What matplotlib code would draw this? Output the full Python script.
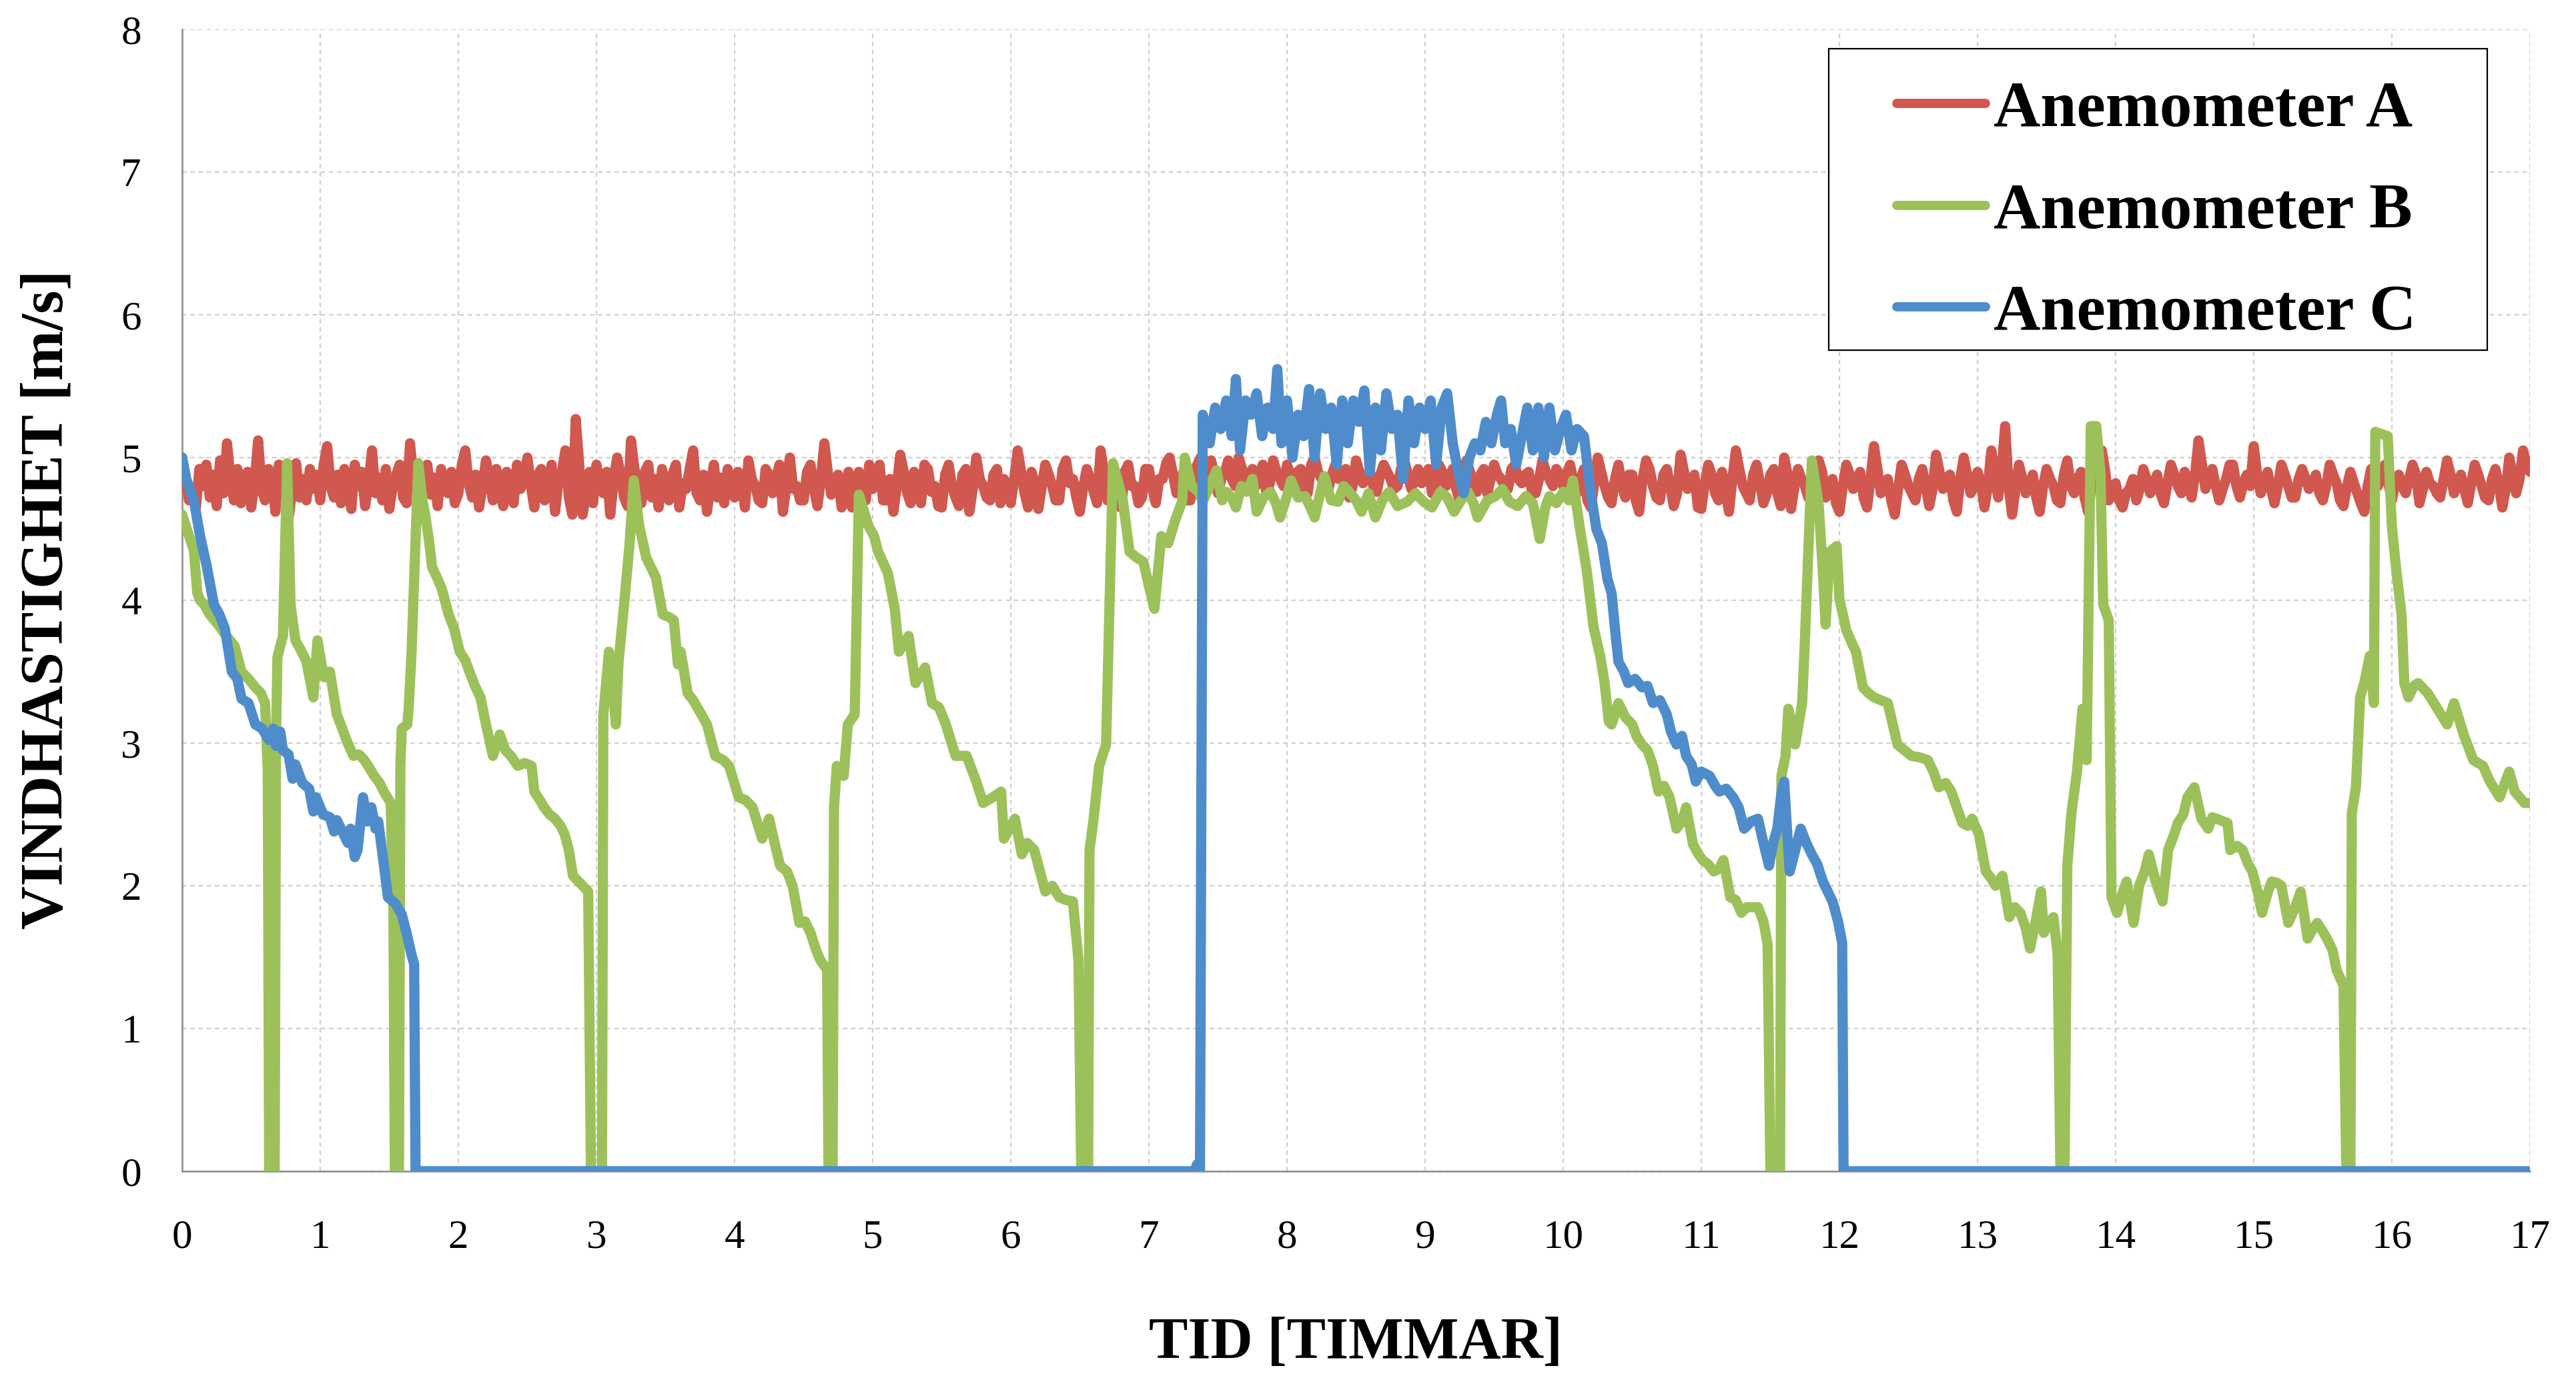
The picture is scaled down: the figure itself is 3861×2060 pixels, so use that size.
import numpy as np
import matplotlib
matplotlib.use("Agg")
import matplotlib.pyplot as plt
from matplotlib.patches import Rectangle

# ---------------- data ----------------
series_names = ["Anemometer A", "Anemometer B", "Anemometer C"]
series_colors = ["#d0584f", "#9cc15a", "#4f8ccb"]

# Anemometer A: sampled every 0.025 h from 0 to 17 h (one row = half an hour)
a_step = 0.025
a_values = [
    5.00,4.85,4.70,4.78,4.65,4.92,4.80,4.95,4.72,4.88,4.66,4.98,4.75,5.10,4.85,4.70,4.92,4.68,4.80,4.90,
    4.65,4.82,5.12,4.78,4.70,4.92,4.86,4.62,4.95,4.75,4.88,4.60,4.82,4.96,4.72,4.85,4.70,4.92,4.78,4.88,
    4.70,4.95,5.08,4.80,4.72,4.88,4.68,4.92,4.78,4.64,4.95,4.80,4.90,4.66,4.82,5.05,4.75,4.86,4.70,4.92,
    4.64,4.80,4.88,4.95,4.72,4.68,5.10,4.85,4.78,4.62,4.88,4.95,4.74,4.86,4.66,4.92,4.80,4.75,4.90,4.68,
    4.75,4.95,5.05,4.82,4.72,4.88,4.65,4.80,4.98,4.85,4.70,4.92,4.76,4.66,4.90,4.82,4.68,4.95,4.78,4.86,
    5.00,4.80,4.65,4.88,4.92,4.70,4.78,4.95,4.62,4.84,4.90,5.05,4.72,4.60,5.27,4.95,4.60,4.75,4.90,4.68,
    4.95,4.82,4.75,4.90,4.60,4.85,5.00,4.88,4.72,4.66,5.12,4.92,4.80,4.68,4.90,4.95,4.72,4.85,4.65,4.92,
    4.80,4.70,4.88,4.95,4.65,4.82,4.78,4.92,5.05,4.75,4.70,4.88,4.62,4.80,4.95,4.72,4.86,4.68,4.92,4.78,
    4.72,4.90,4.82,4.65,4.98,4.85,4.80,4.70,4.68,4.92,4.88,4.75,4.85,4.95,4.62,4.80,5.00,4.78,4.80,4.70,
    4.70,4.90,4.95,4.78,4.66,4.85,5.10,4.90,4.74,4.82,4.88,4.65,4.72,4.90,4.65,4.80,4.90,4.75,4.70,4.95,
    4.78,4.88,4.95,4.70,4.70,4.85,4.62,4.80,5.02,4.90,4.75,4.68,4.90,4.82,4.68,4.95,4.92,4.76,4.80,4.66,
    4.65,4.88,4.95,4.80,4.72,4.66,4.88,4.92,4.62,4.78,5.00,4.85,4.80,4.72,4.70,4.88,4.92,4.68,4.85,4.78,
    4.68,4.85,5.05,4.90,4.75,4.65,4.90,4.82,4.64,4.80,4.95,4.88,4.80,4.70,4.70,4.92,4.98,4.82,4.85,4.72,
    4.62,4.80,4.92,4.85,4.76,4.68,5.05,4.90,4.70,4.78,4.88,4.66,4.65,4.90,4.95,4.80,4.80,4.68,4.72,4.92,
    4.92,4.78,4.68,4.85,4.85,4.96,5.00,4.88,4.75,4.82,4.90,4.70,4.70,4.85,4.95,5.00,4.82,4.90,4.98,4.88,
    4.75,4.85,4.90,4.98,4.85,4.80,5.00,4.92,4.78,4.88,4.92,4.80,4.88,4.95,4.75,4.82,4.98,4.90,4.85,4.80,
    4.95,4.88,4.80,4.90,4.92,4.78,4.75,4.95,5.00,4.90,4.85,4.80,4.78,4.88,4.95,4.85,4.88,4.92,4.72,4.80,
    4.98,4.90,4.82,4.85,4.90,4.80,4.76,4.88,4.95,4.90,4.85,4.78,4.80,4.92,4.98,4.88,4.78,4.85,4.92,4.82,
    4.85,4.92,4.75,4.82,4.95,4.90,4.80,4.85,4.92,4.78,4.70,4.88,4.98,4.90,4.82,4.76,4.88,4.92,4.75,4.85,
    4.95,4.88,4.85,4.80,4.78,4.92,4.95,4.85,4.82,4.88,4.90,4.75,4.75,4.85,4.98,4.90,4.85,4.80,4.92,4.88,
    4.80,4.88,4.95,4.82,4.75,4.85,4.92,4.70,4.65,4.82,5.00,4.90,4.80,4.72,4.68,4.85,4.95,4.80,4.72,4.88,
    4.88,4.70,4.62,4.85,4.98,4.92,4.80,4.72,4.70,4.88,4.92,4.80,4.66,4.75,5.02,4.90,4.78,4.82,4.88,4.65,
    4.64,4.82,4.95,4.88,4.75,4.70,4.90,4.78,4.62,4.85,5.05,4.92,4.80,4.75,4.70,4.88,4.95,4.82,4.68,4.75,
    4.88,4.92,4.75,4.66,5.00,4.88,4.64,4.80,4.92,4.85,4.80,4.72,4.70,4.85,4.98,4.90,4.72,4.80,4.85,4.68,
    4.62,4.80,4.95,4.88,4.78,4.85,4.90,4.72,4.65,4.85,5.08,4.92,4.75,4.80,4.85,4.70,4.60,4.78,4.95,4.88,
    4.80,4.75,4.70,4.85,4.92,4.80,4.66,4.78,5.02,4.90,4.78,4.85,4.88,4.70,4.62,4.85,5.00,4.88,4.75,4.80,
    4.90,4.82,4.65,4.80,5.05,4.88,4.72,4.92,5.22,4.80,4.60,4.78,4.95,4.85,4.75,4.80,4.88,4.72,4.62,4.80,
    4.92,4.85,4.80,4.70,4.68,4.88,4.98,4.80,4.75,4.85,4.90,4.72,4.62,4.80,4.95,4.85,5.05,4.90,4.70,4.75,
    4.82,4.70,4.65,4.75,4.78,4.85,4.70,4.78,4.92,4.85,4.75,4.80,4.88,4.75,4.68,4.82,4.95,4.88,4.80,4.75,
    4.90,4.82,4.72,4.88,5.12,4.95,4.78,4.85,4.92,4.80,4.70,4.78,4.85,4.95,4.95,4.80,4.72,4.82,4.88,4.80,
    5.08,4.88,4.75,4.82,4.90,4.78,4.68,4.80,4.95,4.88,4.80,4.72,4.72,4.85,4.92,4.85,4.78,4.82,4.88,4.75,
    4.70,4.80,4.95,4.88,4.82,4.70,4.66,4.80,4.90,4.82,4.75,4.68,4.62,4.80,4.92,4.85,4.80,4.88,4.95,4.82,
    4.70,4.82,4.88,4.80,4.75,4.85,4.95,4.88,4.68,4.78,4.90,4.82,4.80,4.75,4.72,4.85,4.98,4.88,4.75,4.80,
    4.88,4.78,4.68,4.82,4.95,4.88,4.80,4.72,4.70,4.85,4.92,4.80,4.65,4.78,5.00,4.88,4.75,4.85,5.05,4.95,
    4.90,
]

# Anemometer B: (time h, speed m/s)
b_points = [
    (0.00,4.60),(0.05,4.45),(0.085,4.35),(0.11,4.05),(0.13,4.00),(0.16,3.97),(0.20,3.90),(0.26,3.83),
    (0.32,3.75),(0.38,3.68),(0.43,3.50),(0.48,3.45),(0.53,3.39),(0.57,3.35),(0.60,3.28),(0.62,2.80),
    (0.63,0.00),(0.67,0.00),(0.68,3.06),(0.69,3.60),(0.71,3.68),(0.73,3.75),(0.76,4.96),(0.785,3.97),
    (0.82,3.72),(0.86,3.65),(0.90,3.57),(0.95,3.32),(0.98,3.72),(1.01,3.55),(1.03,3.46),(1.07,3.50),
    (1.12,3.20),(1.16,3.10),(1.19,3.02),(1.24,2.91),(1.28,2.92),(1.32,2.88),(1.36,2.82),(1.39,2.77),
    (1.43,2.72),(1.46,2.66),(1.51,2.58),(1.53,1.80),(1.54,0.00),(1.57,0.00),(1.58,2.84),(1.59,3.10),
    (1.63,3.13),(1.64,3.24),(1.66,3.61),(1.71,4.96),(1.74,4.70),(1.76,4.60),(1.79,4.40),(1.81,4.23),
    (1.85,4.15),(1.88,4.08),(1.93,3.90),(1.97,3.80),(2.01,3.64),(2.05,3.58),(2.08,3.50),(2.12,3.40),
    (2.16,3.32),(2.20,3.13),(2.25,2.91),(2.30,3.06),(2.34,2.95),(2.38,2.91),(2.43,2.84),(2.48,2.86),
    (2.53,2.84),(2.55,2.66),(2.59,2.60),(2.62,2.55),(2.66,2.50),(2.70,2.47),(2.74,2.42),(2.77,2.36),
    (2.80,2.25),(2.83,2.07),(2.89,2.01),(2.94,1.96),(2.96,0.00),(3.04,0.00),(3.05,3.20),(3.09,3.64),
    (3.12,3.40),(3.14,3.13),(3.16,3.57),(3.20,3.97),(3.24,4.40),(3.27,4.84),(3.31,4.52),(3.36,4.30),
    (3.43,4.16),(3.48,3.90),(3.53,3.88),(3.56,3.86),(3.59,3.55),(3.61,3.64),(3.66,3.35),(3.70,3.30),
    (3.76,3.20),(3.80,3.13),(3.86,2.91),(3.92,2.88),(3.96,2.84),(4.03,2.62),(4.08,2.60),(4.13,2.55),
    (4.20,2.33),(4.25,2.47),(4.29,2.30),(4.33,2.14),(4.38,2.10),(4.42,2.00),(4.47,1.74),(4.51,1.75),
    (4.55,1.67),(4.59,1.55),(4.62,1.48),(4.67,1.41),(4.68,0.00),(4.71,0.00),(4.72,2.55),(4.74,2.84),
    (4.79,2.77),(4.82,3.13),(4.87,3.20),(4.90,4.74),(4.97,4.52),(5.01,4.45),(5.04,4.34),(5.11,4.19),
    (5.16,3.94),(5.19,3.64),(5.26,3.75),(5.31,3.42),(5.38,3.53),(5.43,3.28),(5.48,3.25),(5.53,3.13),
    (5.60,2.91),(5.68,2.91),(5.75,2.73),(5.80,2.58),(5.87,2.62),(5.93,2.66),(5.95,2.33),(6.03,2.47),
    (6.08,2.22),(6.12,2.30),(6.17,2.25),(6.25,1.96),(6.30,2.00),(6.35,1.92),(6.40,1.90),(6.45,1.89),
    (6.49,1.48),(6.51,0.00),(6.56,0.00),(6.57,2.25),(6.60,2.47),(6.64,2.84),(6.69,2.99),(6.74,4.96),
    (6.81,4.71),(6.86,4.34),(6.91,4.30),(6.96,4.27),(7.00,4.10),(7.04,3.94),(7.09,4.45),(7.14,4.40),
    (7.19,4.56),(7.24,4.69),(7.26,5.00),(7.31,4.80),(7.36,4.76),(7.39,4.69),(7.44,4.80),(7.49,4.91),
    (7.53,4.70),(7.56,4.76),(7.60,4.72),(7.63,4.65),(7.67,4.80),(7.71,4.76),(7.75,4.85),(7.78,4.62),
    (7.83,4.72),(7.88,4.76),(7.92,4.68),(7.95,4.58),(7.99,4.70),(8.03,4.84),(8.08,4.72),(8.13,4.73),
    (8.17,4.65),(8.20,4.58),(8.24,4.75),(8.27,4.87),(8.32,4.70),(8.37,4.69),(8.41,4.80),(8.45,4.76),
    (8.50,4.70),(8.54,4.62),(8.59,4.75),(8.64,4.58),(8.69,4.70),(8.74,4.76),(8.80,4.66),(8.87,4.69),
    (8.93,4.75),(8.99,4.69),(9.05,4.65),(9.11,4.76),(9.16,4.72),(9.21,4.62),(9.26,4.70),(9.31,4.76),
    (9.35,4.68),(9.38,4.58),(9.45,4.70),(9.51,4.73),(9.56,4.78),(9.61,4.69),(9.67,4.66),(9.73,4.73),
    (9.78,4.68),(9.83,4.43),(9.87,4.65),(9.90,4.73),(9.95,4.68),(10.00,4.76),(10.04,4.70),(10.07,4.84),
    (10.12,4.51),(10.17,4.21),(10.22,3.81),(10.27,3.60),(10.30,3.42),(10.33,3.15),(10.35,3.13),(10.40,3.28),
    (10.45,3.18),(10.50,3.13),(10.53,3.05),(10.57,2.99),(10.61,2.95),(10.65,2.84),(10.69,2.66),(10.73,2.70),
    (10.77,2.62),(10.82,2.40),(10.86,2.45),(10.89,2.55),(10.94,2.29),(10.98,2.22),(11.01,2.18),(11.05,2.15),
    (11.09,2.10),(11.13,2.12),(11.16,2.18),(11.21,1.92),(11.25,1.90),(11.29,1.81),(11.33,1.85),(11.36,1.85),
    (11.41,1.85),(11.45,1.75),(11.48,1.59),(11.50,0.00),(11.57,0.00),(11.58,2.77),(11.61,2.91),(11.63,3.24),
    (11.68,2.99),(11.73,3.28),(11.75,3.72),(11.80,4.98),(11.85,4.67),(11.88,4.20),(11.90,3.83),(11.93,4.34),
    (11.98,4.38),(12.00,4.01),(12.05,3.79),(12.09,3.70),(12.12,3.64),(12.17,3.39),(12.21,3.35),(12.25,3.32),
    (12.30,3.30),(12.35,3.28),(12.42,2.99),(12.47,2.95),(12.52,2.91),(12.58,2.90),(12.64,2.88),(12.68,2.80),
    (12.72,2.69),(12.77,2.72),(12.81,2.66),(12.85,2.55),(12.89,2.44),(12.93,2.42),(12.96,2.47),(13.01,2.36),
    (13.06,2.10),(13.10,2.05),(13.13,2.00),(13.18,2.07),(13.23,1.78),(13.27,1.85),(13.31,1.81),(13.35,1.70),
    (13.38,1.56),(13.42,1.75),(13.46,1.96),(13.48,1.67),(13.52,1.75),(13.55,1.78),(13.58,1.52),(13.60,0.00),
    (13.63,0.00),(13.65,2.14),(13.68,2.51),(13.72,2.80),(13.76,3.24),(13.79,2.88),(13.82,5.22),(13.86,5.22),
    (13.89,4.89),(13.91,3.97),(13.95,3.86),(13.97,1.92),(14.01,1.81),(14.05,1.95),(14.08,2.03),(14.13,1.74),
    (14.17,2.00),(14.21,2.10),(14.24,2.22),(14.29,2.03),(14.34,1.89),(14.38,2.25),(14.42,2.35),(14.45,2.44),
    (14.49,2.50),(14.52,2.62),(14.57,2.69),(14.62,2.47),(14.67,2.40),(14.70,2.48),(14.73,2.47),(14.78,2.45),
    (14.81,2.44),(14.83,2.25),(14.88,2.28),(14.92,2.25),(14.96,2.15),(14.99,2.10),(15.03,1.95),(15.06,1.81),
    (15.10,1.95),(15.13,2.03),(15.17,2.02),(15.20,2.00),(15.25,1.74),(15.30,1.85),(15.34,1.96),(15.39,1.63),
    (15.43,1.70),(15.46,1.74),(15.50,1.68),(15.53,1.63),(15.57,1.55),(15.60,1.41),(15.65,1.30),(15.67,0.00),
    (15.70,0.00),(15.71,2.51),(15.74,2.69),(15.77,3.32),(15.80,3.42),(15.84,3.61),(15.87,3.28),(15.88,5.18),
    (15.97,5.15),(16.00,4.52),(16.03,4.23),(16.07,3.90),(16.09,3.42),(16.12,3.32),(16.16,3.40),(16.19,3.42),
    (16.26,3.35),(16.33,3.24),(16.40,3.13),(16.45,3.28),(16.52,3.06),(16.59,2.88),(16.66,2.84),(16.71,2.73),
    (16.78,2.62),(16.85,2.80),(16.89,2.66),(16.96,2.58),(17.00,2.58),
]

# Anemometer C: (time h, speed m/s)
c_points = [
    (0.00,5.00),(0.03,4.85),(0.085,4.70),(0.13,4.45),(0.18,4.23),(0.23,3.97),(0.27,3.90),(0.31,3.80),
    (0.36,3.50),(0.40,3.45),(0.43,3.31),(0.48,3.28),(0.53,3.13),(0.58,3.10),(0.63,3.02),(0.66,3.10),
    (0.68,2.98),(0.71,3.08),(0.73,2.95),(0.77,2.92),(0.80,2.75),(0.82,2.85),(0.87,2.72),(0.92,2.68),
    (0.95,2.52),(0.97,2.62),(1.02,2.50),(1.07,2.48),(1.10,2.38),(1.12,2.46),(1.17,2.36),(1.20,2.30),
    (1.22,2.40),(1.25,2.20),(1.27,2.25),(1.31,2.62),(1.34,2.45),(1.37,2.55),(1.40,2.40),(1.42,2.45),
    (1.46,2.15),(1.49,1.92),(1.54,1.88),(1.59,1.80),(1.63,1.65),(1.66,1.52),(1.68,1.45),(1.69,0.00),
    (7.33,0.00),(7.35,0.05),(7.37,0.00),(7.39,5.30),
    (7.44,5.10),(7.48,5.35),(7.52,5.20),(7.56,5.40),(7.60,5.15),(7.63,5.55),(7.66,5.05),(7.70,5.40),
    (7.74,5.30),(7.78,5.45),(7.82,5.15),(7.86,5.35),(7.90,5.20),(7.93,5.62),(7.96,5.10),(8.00,5.40),
    (8.04,5.00),(8.08,5.30),(8.12,5.15),(8.16,5.48),(8.20,5.00),(8.24,5.45),(8.28,5.20),(8.32,5.35),
    (8.36,4.95),(8.40,5.40),(8.44,5.10),(8.48,5.40),(8.52,5.25),(8.56,5.47),(8.60,4.90),(8.64,5.35),
    (8.68,5.05),(8.72,5.45),(8.76,5.20),(8.80,5.30),(8.84,4.85),(8.88,5.40),(8.92,5.10),(8.96,5.35),
    (9.00,5.20),(9.04,5.40),(9.08,4.95),(9.12,5.35),(9.16,5.45),(9.20,5.10),(9.24,4.90),(9.28,4.75),
    (9.32,5.00),(9.36,5.10),(9.40,5.05),(9.44,5.25),(9.48,5.10),(9.52,5.30),(9.55,5.40),(9.58,5.10),
    (9.62,5.20),(9.66,4.95),(9.70,5.15),(9.74,5.35),(9.78,5.05),(9.82,5.35),(9.86,5.00),(9.90,5.35),
    (9.94,5.05),(9.98,5.20),(10.02,5.30),(10.06,5.05),(10.10,5.20),(10.15,5.15),
    (10.20,4.75),(10.24,4.50),(10.28,4.40),(10.32,4.15),(10.35,4.05),(10.38,3.75),(10.40,3.57),(10.44,3.50),
    (10.47,3.42),(10.52,3.45),(10.57,3.39),(10.61,3.40),(10.65,3.28),(10.70,3.30),(10.75,3.20),(10.78,3.08),
    (10.82,2.99),(10.86,3.05),(10.89,2.91),(10.93,2.85),(10.96,2.73),(11.00,2.80),(11.06,2.77),(11.10,2.70),
    (11.13,2.66),(11.18,2.68),(11.23,2.62),(11.27,2.55),(11.31,2.40),(11.36,2.45),(11.41,2.47),(11.45,2.30),
    (11.49,2.14),(11.52,2.30),(11.55,2.40),(11.58,2.65),(11.60,2.73),(11.62,2.40),(11.64,2.10),(11.68,2.25),
    (11.72,2.40),(11.76,2.30),(11.80,2.22),(11.84,2.15),(11.88,2.03),(11.92,1.95),(11.95,1.89),(11.99,1.75),
    (12.02,1.60),(12.03,0.00),(17.00,0.00),
]

x_ticks = list(range(0, 18))
y_ticks = list(range(0, 9))
x_label = "TID [TIMMAR]"
y_label = "VINDHASTIGHET [m/s]"

# ---------------- figure ----------------
W, H = 3861, 2060
DPI = 100
plt.rcParams['font.family'] = ['Liberation Serif', 'DejaVu Serif']
fig = plt.figure(figsize=(W / DPI, H / DPI), dpi=DPI)
fig.patch.set_facecolor("white")

L, R, T, B = 273, 3792, 44, 1756
ax = fig.add_axes([L / W, 1 - B / H, (R - L) / W, (B - T) / H])

a_t = np.arange(len(a_values)) * a_step
b_arr = np.array(b_points)
c_arr = np.array(c_points)

lw = 11
lines = []
lines += ax.plot(a_t, a_values, color=series_colors[0], lw=lw, solid_joinstyle='round',
                 solid_capstyle='round', label=series_names[0], zorder=3)
lines += ax.plot(b_arr[:, 0], b_arr[:, 1], color=series_colors[1], lw=lw, solid_joinstyle='round',
                 solid_capstyle='round', label=series_names[1], zorder=4)
lines += ax.plot(c_arr[:, 0], c_arr[:, 1], color=series_colors[2], lw=lw, solid_joinstyle='round',
                 solid_capstyle='round', label=series_names[2], zorder=5)

ax.set_xlim(0, 17)
ax.set_ylim(0, 8)
ax.set_xticks(x_ticks)
ax.set_yticks(y_ticks)
ax.grid(True, color="#cfcfcf", lw=1.6, linestyle=(0, (3, 2.5)), zorder=0)
ax.set_axisbelow(True)
for s in ["top", "right"]:
    ax.spines[s].set_visible(False)
for s in ["left", "bottom"]:
    ax.spines[s].set_color("#8a8a8a")
    ax.spines[s].set_linewidth(1.8)
    ax.spines[s].set_zorder(2)
ax.tick_params(axis='both', length=0, labelsize=44, colors="black")
ax.tick_params(axis='x', pad=52)
ax.tick_params(axis='y', pad=44)

fig.text(2032 / W, 1 - 2014 / H, x_label, ha='center', va='center', fontsize=63, fontweight='bold')
fig.text(72 / W, 1 - 899 / H, y_label, ha='center', va='center', rotation=90, fontsize=65,
         fontweight='bold')

# legend box
bx0, bx1, by0, by1 = 2741, 3728, 73, 525
fig.patches.append(Rectangle((bx0 / W, 1 - by1 / H), (bx1 - bx0) / W, (by1 - by0) / H,
                             transform=fig.transFigure, facecolor="white", edgecolor="black",
                             lw=1.6, zorder=4))
leg = fig.legend(handles=lines, labels=series_names, loc='center left',
                 bbox_to_anchor=(2843 / W, 1 - 318 / H), bbox_transform=fig.transFigure,
                 frameon=False, borderpad=0, borderaxespad=0, handlelength=1.37,
                 handletextpad=0.12, labelspacing=0.65,
                 prop={'family': ['Liberation Serif', 'DejaVu Serif'], 'weight': 'bold', 'size': 70})
leg.set_zorder(6)
for h in leg.legend_handles:
    h.set_linewidth(10)
    h.set_solid_capstyle('round')

fig.savefig("out.png", dpi=DPI, facecolor="white")
